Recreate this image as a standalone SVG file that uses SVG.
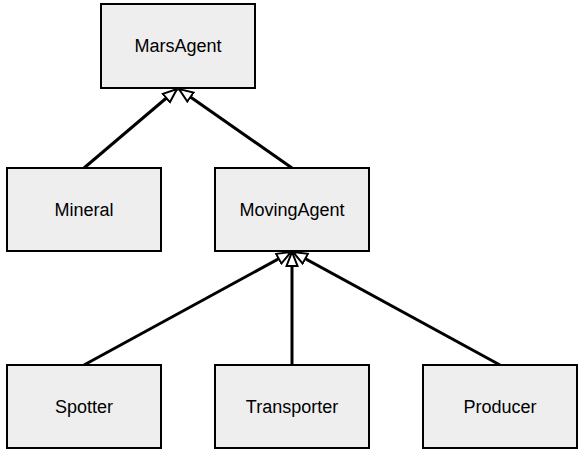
<svg xmlns="http://www.w3.org/2000/svg" width="584" height="458" viewBox="0 0 584 458">
<style>
.n rect{fill:#eeeeee;stroke:#000;stroke-width:2}
.n text{font-family:"Liberation Sans",Arial,sans-serif;font-size:18px;fill:#000;text-anchor:middle;dominant-baseline:central}
.e line{stroke:#000;stroke-width:3}
</style>
<defs>
<marker id="tri" markerUnits="userSpaceOnUse" markerWidth="16" markerHeight="16" viewBox="0 0 16 16" refX="15" refY="8" orient="auto">
<path d="M1,2.5 L15,8 L1,13.5 Z" fill="#fff" stroke="#000" stroke-width="2"/>
</marker>
</defs>
<g class="e">
<line x1="84" y1="168" x2="177" y2="89" marker-end="url(#tri)"/>
<line x1="292" y1="168" x2="179" y2="89" marker-end="url(#tri)"/>
<line x1="84" y1="365" x2="291" y2="252" marker-end="url(#tri)"/>
<line x1="292" y1="365" x2="292" y2="252" marker-end="url(#tri)"/>
<line x1="500" y1="365" x2="293" y2="252" marker-end="url(#tri)"/>
</g>
<g id="MarsAgent" class="n"><rect x="101" y="4" width="154" height="84"/><text x="178" y="46">MarsAgent</text></g>
<g id="Mineral" class="n"><rect x="7" y="168" width="154" height="83"/><text x="84" y="210">Mineral</text></g>
<g id="MovingAgent" class="n"><rect x="215" y="168" width="154" height="83"/><text x="292" y="210">MovingAgent</text></g>
<g id="Spotter" class="n"><rect x="7" y="365" width="154" height="83"/><text x="84" y="407">Spotter</text></g>
<g id="Transporter" class="n"><rect x="215" y="365" width="154" height="83"/><text x="292" y="407">Transporter</text></g>
<g id="Producer" class="n"><rect x="423" y="365" width="154" height="83"/><text x="500" y="407">Producer</text></g>
</svg>
